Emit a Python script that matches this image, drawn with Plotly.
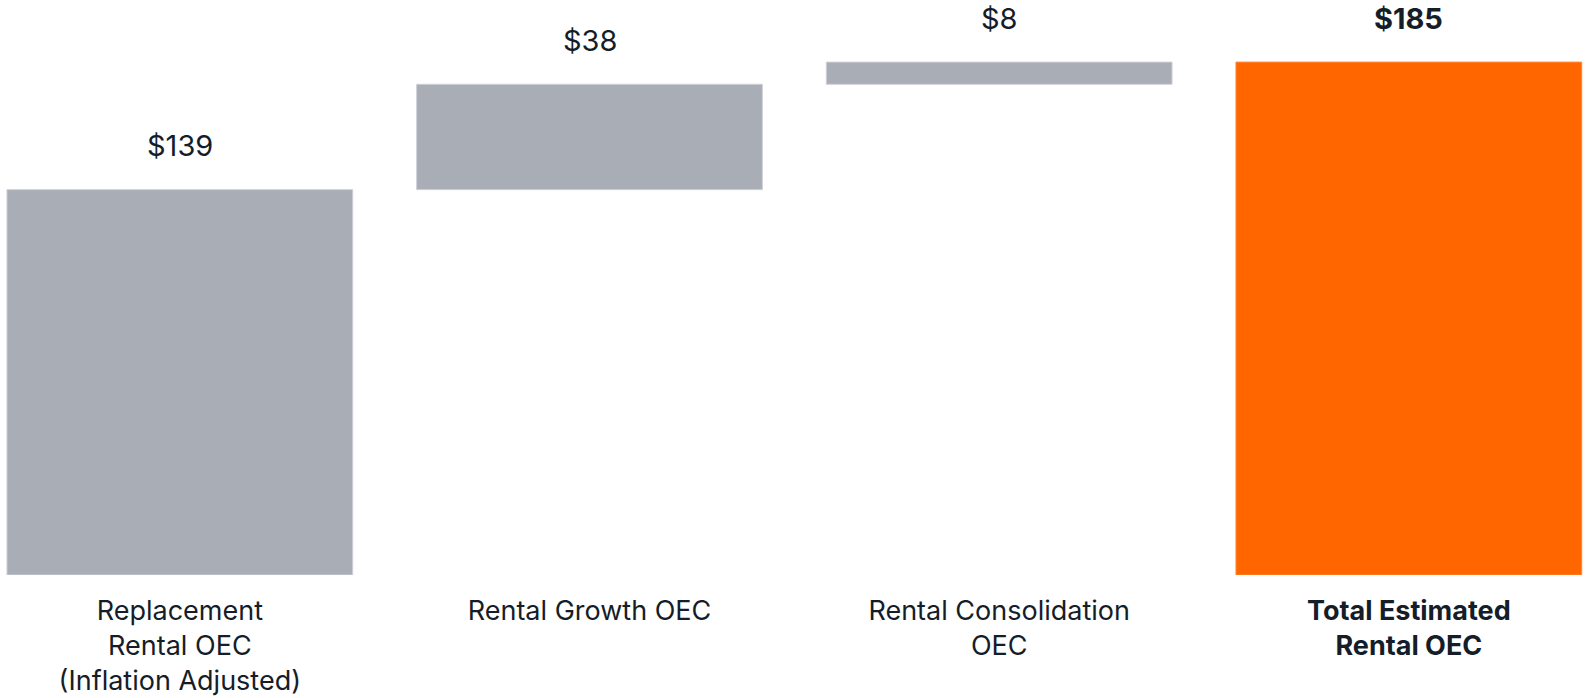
import plotly.graph_objects as go

# Rental OEC bridge ($, billions)
categories = [
    "Replacement<br>Rental OEC<br>(Inflation Adjusted)",
    "Rental Growth OEC",
    "Rental Consolidation<br>OEC",
    "<b>Total Estimated<br>Rental OEC</b>",
]
values = [139, 38, 8, 185]
measures = ["absolute", "relative", "relative", "total"]
value_labels = ["$139", "$38", "$8", "<b>$185</b>"]

GRAY = "#a9adb5"
ORANGE = "#ff6600"
TEXT = "#151d29"
FONT = "Inter, Roboto, sans-serif"

# Floating bar bases derived from the running total
bases, tops, running = [], [], 0
for v, m in zip(values, measures):
    if m == "relative":
        bases.append(running)
        running += v
    else:
        bases.append(0)
        running = v
    tops.append(running)

colors = [ORANGE if m == "total" else GRAY for m in measures]
edge = ["#ff8a3d" if m == "total" else "#cfd1d6" for m in measures]
xpos = list(range(len(categories)))

fig = go.Figure(
    go.Bar(
        x=xpos,
        y=values,
        base=bases,
        marker=dict(color=colors, line=dict(color=edge, width=1)),
        hoverinfo="skip",
    )
)

for x, top, label in zip(xpos, tops, value_labels):
    fig.add_annotation(
        x=x, y=top, text=label, showarrow=False,
        yanchor="middle", yshift=44,
        font=dict(family=FONT, size=29, color=TEXT),
    )

fig.update_layout(
    width=1585, height=698,
    margin=dict(l=0, r=0, t=0, b=123),
    paper_bgcolor="white", plot_bgcolor="white",
    bargap=0.156,
    showlegend=False,
    font=dict(family=FONT, size=27, color=TEXT),
    xaxis=dict(
        tickmode="array", tickvals=xpos, ticktext=categories,
        range=[-0.439, 3.43],
        automargin=False,
        showgrid=False, zeroline=False, showline=False, ticks="",
        ticklabelstandoff=17,
        tickfont=dict(family=FONT, size=27, color=TEXT),
    ),
    yaxis=dict(
        range=[0, 207.4], visible=False, showgrid=False, zeroline=False,
        automargin=False,
    ),
)

fig.write_html("out.html")
